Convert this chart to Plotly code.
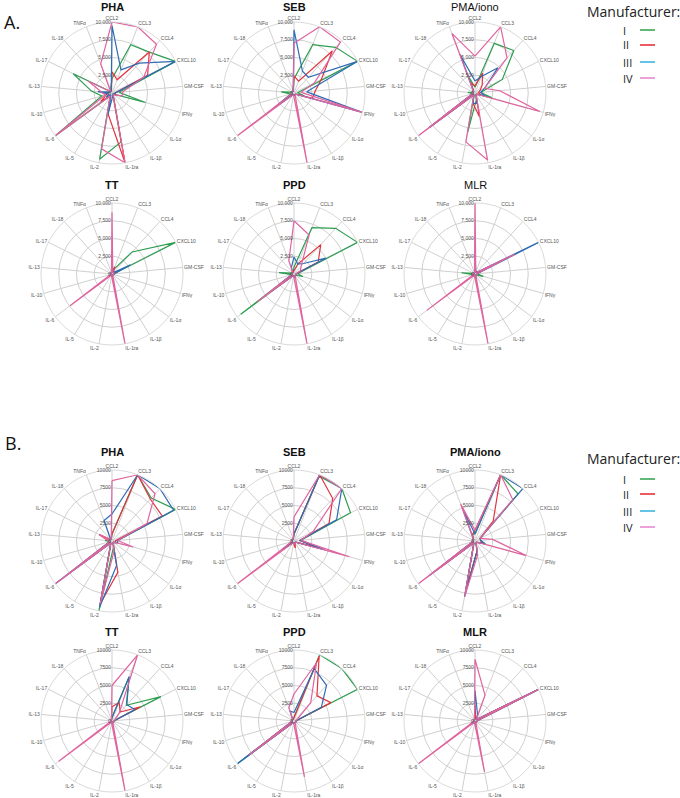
import plotly.graph_objects as go

W, H = 680, 798

CATEGORIES = ["CCL2", "CCL3", "CCL4", "CXCL10", "GM-CSF", "IFNγ", "IL-1α", "IL-1β",
              "IL-1ra", "IL-2", "IL-5", "IL-6", "IL-10", "IL-13", "IL-17", "IL-18", "TNFα"]
MANUFACTURERS = ["I", "II", "III", "IV"]
RADIAL_TICKS = [0, 2500, 5000, 7500, 10000]
TICKTEXT_A = ["0", "2,500", "5,000", "7,500", "10,000"]
TICKTEXT_B = ["0", "2500", "5000", "7500", "10000"]

# ---- Panel A values (order: CATEGORIES) ----
A_PHA = {
    "I":   [2000, 7300, 7800, 10000, 1000, 4900, 300, 300, 7000, 9500, 500, 10000, 1500, 2900, 6100, 300, 500],
    "II":  [3000, 2000, 7800, 5600, 500, 500, 300, 300, 10000, 3000, 500, 2000, 800, 1000, 300, 300, 300],
    "III": [9500, 3500, 5700, 10000, 500, 300, 200, 200, 500, 3100, 300, 1000, 500, 2000, 300, 300, 300],
    "IV":  [10000, 10000, 9300, 5000, 1500, 1500, 500, 300, 10000, 8000, 500, 10000, 1000, 1500, 3700, 300, 4400],
}
A_SEB = {
    "I":   [2000, 7300, 8700, 10000, 500, 1500, 300, 300, 300, 300, 300, 3500, 500, 1800, 300, 300, 300],
    "II":  [2400, 1800, 8000, 4300, 3000, 2700, 300, 300, 300, 300, 300, 1000, 300, 300, 300, 300, 300],
    "III": [8900, 3300, 3000, 10000, 1800, 10000, 300, 300, 300, 300, 300, 3500, 300, 300, 300, 300, 300],
    "IV":  [7000, 10000, 9700, 3200, 1000, 10000, 300, 300, 10000, 300, 300, 10000, 300, 300, 300, 300, 300],
}
A_PMA = {
    "I":   [800, 7500, 8100, 4300, 800, 2500, 300, 300, 1000, 5600, 300, 8000, 300, 1000, 300, 300, 2500],
    "II":  [1000, 3000, 1500, 800, 500, 800, 300, 300, 3400, 1500, 300, 8000, 300, 300, 300, 300, 1500],
    "III": [1700, 2500, 4800, 1500, 800, 1500, 300, 300, 1500, 1500, 300, 8000, 300, 300, 300, 300, 5800],
    "IV":  [5200, 10000, 6700, 1500, 3500, 9500, 300, 300, 9600, 7000, 300, 10000, 300, 300, 300, 300, 9000],
}
A_TT = {
    "I":   [300, 700, 4200, 10000, 300, 300, 200, 200, 300, 300, 200, 300, 200, 300, 200, 200, 200],
    "II":  [300, 1100, 300, 800, 300, 200, 200, 200, 300, 300, 200, 300, 200, 200, 200, 200, 200],
    "III": [2500, 300, 300, 2900, 300, 200, 200, 200, 300, 300, 200, 300, 200, 200, 200, 200, 200],
    "IV":  [8700, 300, 300, 300, 300, 200, 200, 200, 10000, 300, 200, 7400, 200, 200, 200, 200, 200],
}
A_PPD = {
    "I":   [1000, 7000, 8700, 10000, 500, 1300, 300, 300, 500, 300, 300, 9400, 300, 2100, 300, 300, 300],
    "II":  [500, 1500, 5600, 3800, 300, 300, 300, 300, 500, 300, 300, 4000, 300, 300, 300, 300, 300],
    "III": [2400, 1500, 2000, 5000, 300, 300, 300, 300, 500, 300, 300, 4000, 300, 300, 300, 300, 1000],
    "IV":  [7500, 5900, 1500, 1000, 300, 300, 300, 300, 10000, 300, 300, 6500, 300, 300, 300, 300, 2000],
}
A_MLR = {
    "I":   [500, 300, 300, 1000, 300, 1200, 200, 200, 300, 300, 200, 500, 300, 1900, 200, 200, 200],
    "II":  [1000, 300, 300, 800, 300, 300, 200, 200, 300, 300, 200, 500, 200, 300, 200, 200, 200],
    "III": [3000, 300, 300, 10000, 300, 300, 200, 200, 800, 300, 200, 500, 200, 300, 200, 200, 200],
    "IV":  [10000, 300, 300, 6200, 300, 300, 200, 200, 10000, 300, 200, 8500, 200, 300, 200, 200, 200],
}

# ---- Panel B values ----
B_PHA = {
    "I":   [1000, 10000, 8200, 10000, 800, 800, 300, 300, 1000, 10000, 300, 7800, 300, 1000, 300, 300, 300],
    "II":  [1000, 10000, 8000, 7900, 500, 500, 300, 300, 4500, 9000, 300, 5000, 300, 500, 2000, 300, 300],
    "III": [3800, 10000, 10000, 9700, 800, 800, 300, 300, 3500, 9500, 300, 10000, 300, 500, 300, 300, 3100],
    "IV":  [8500, 10000, 9000, 5500, 800, 3100, 300, 300, 1500, 9000, 300, 10000, 300, 500, 2000, 300, 300],
}
B_SEB = {
    "I":   [1000, 9800, 10000, 8900, 1000, 4000, 300, 300, 300, 300, 300, 2000, 300, 300, 300, 300, 300],
    "II":  [1000, 10000, 8100, 5500, 800, 3500, 300, 300, 1000, 300, 300, 2000, 300, 300, 300, 300, 300],
    "III": [1000, 10000, 10000, 6700, 800, 4500, 300, 300, 300, 300, 300, 2000, 300, 300, 300, 300, 300],
    "IV":  [3400, 10000, 10000, 3000, 1000, 8100, 300, 300, 500, 300, 300, 10000, 300, 300, 300, 300, 300],
}
B_PMA = {
    "I":   [1000, 10000, 9000, 800, 800, 1500, 300, 300, 1500, 7500, 300, 6000, 300, 300, 300, 300, 1000],
    "II":  [1500, 10000, 3800, 800, 800, 1000, 300, 300, 1500, 7000, 300, 7000, 300, 300, 300, 300, 1000],
    "III": [1000, 10000, 10000, 800, 800, 1500, 300, 300, 1500, 8000, 300, 8000, 300, 300, 300, 300, 5000],
    "IV":  [1500, 10000, 7900, 800, 2500, 7500, 300, 300, 2000, 8000, 300, 10000, 300, 300, 300, 300, 5600],
}
B_TT = {
    "I":   [500, 6600, 3000, 7700, 300, 300, 200, 200, 300, 300, 200, 300, 200, 200, 200, 200, 200],
    "II":  [2000, 2800, 1700, 4500, 300, 300, 200, 200, 300, 300, 200, 300, 200, 200, 200, 200, 200],
    "III": [500, 6700, 3100, 3600, 300, 300, 200, 200, 300, 300, 200, 300, 200, 200, 200, 200, 200],
    "IV":  [5000, 10000, 1500, 500, 300, 300, 200, 200, 10000, 300, 200, 9400, 200, 200, 200, 200, 200],
}
B_PPD = {
    "I":   [500, 10000, 10000, 10000, 300, 300, 300, 300, 300, 300, 300, 10000, 300, 300, 300, 300, 300],
    "II":  [500, 9800, 4800, 5800, 300, 300, 300, 300, 300, 300, 300, 8000, 300, 300, 300, 300, 300],
    "III": [1200, 7900, 6800, 4300, 300, 300, 300, 300, 300, 300, 300, 10000, 300, 300, 300, 300, 1500],
    "IV":  [3800, 8800, 3500, 500, 300, 300, 300, 300, 8000, 300, 300, 8000, 300, 300, 300, 300, 2000],
}
B_MLR = {
    "I":   [500, 300, 300, 10000, 300, 300, 200, 200, 300, 300, 200, 1000, 200, 200, 200, 200, 200],
    "II":  [2200, 300, 300, 9800, 300, 300, 200, 200, 300, 300, 200, 1000, 200, 200, 200, 200, 200],
    "III": [4300, 1000, 300, 10000, 300, 300, 200, 200, 500, 300, 200, 1000, 200, 200, 200, 200, 200],
    "IV":  [8700, 3900, 300, 10000, 300, 300, 200, 200, 7300, 300, 200, 10000, 200, 200, 200, 200, 200],
}

LINE_COLORS = {"I": "#2e9e52", "II": "#e2333f", "III": "#2f6cb3", "IV": "#e0649f"}
LEGEND_COLORS = {"I": "#3aa655", "II": "#e8303a", "III": "#3db5df", "IV": "#e68ad0"}

# ---- layout geometry (px) ----
COL_X = [112, 294, 475]
ROW_Y_A = [93, 274]
ROW_Y_B = [541, 721]
R = 71

panels = [
    ("PHA", A_PHA, COL_X[0], ROW_Y_A[0], "A", True),
    ("SEB", A_SEB, COL_X[1], ROW_Y_A[0], "A", True),
    ("PMA/iono", A_PMA, COL_X[2], ROW_Y_A[0], "A", False),
    ("TT", A_TT, COL_X[0], ROW_Y_A[1], "A", True),
    ("PPD", A_PPD, COL_X[1], ROW_Y_A[1], "A", True),
    ("MLR", A_MLR, COL_X[2], ROW_Y_A[1], "A", False),
    ("PHA", B_PHA, COL_X[0], ROW_Y_B[0], "B", True),
    ("SEB", B_SEB, COL_X[1], ROW_Y_B[0], "B", True),
    ("PMA/iono", B_PMA, COL_X[2], ROW_Y_B[0], "B", True),
    ("TT", B_TT, COL_X[0], ROW_Y_B[1], "B", True),
    ("PPD", B_PPD, COL_X[1], ROW_Y_B[1], "B", True),
    ("MLR", B_MLR, COL_X[2], ROW_Y_B[1], "B", True),
]

FONT = "Liberation Sans, Arial, sans-serif"
fig = go.Figure()
annotations = []
shapes = []

for i, (title, data, cx, cy, grp, bold) in enumerate(panels):
    pname = "polar" if i == 0 else f"polar{i+1}"
    for m in MANUFACTURERS:
        vals = data[m]
        fig.add_trace(go.Scatterpolar(
            r=vals + [vals[0]], theta=CATEGORIES + [CATEGORIES[0]],
            mode="lines", line=dict(color=LINE_COLORS[m], width=1.2),
            subplot=pname, showlegend=False, hoverinfo="skip"))
    fig.layout[pname] = dict(
        domain=dict(x=[(cx - R) / W, (cx + R) / W], y=[1 - (cy + R) / H, 1 - (cy - R) / H]),
        bgcolor="rgba(0,0,0,0)",
        gridshape="circular",
        radialaxis=dict(range=[0, 10000], tickvals=RADIAL_TICKS,
                        ticktext=TICKTEXT_A if grp == "A" else TICKTEXT_B,
                        angle=90, side="counterclockwise", tickangle=90,
                        showline=False, gridcolor="#d0d0d0", gridwidth=0.8,
                        ticks="", tickfont=dict(size=5, color="#555555", family=FONT)),
        angularaxis=dict(categoryorder="array", categoryarray=CATEGORIES,
                         direction="clockwise", rotation=90,
                         showline=True, linecolor="#d0d0d0", linewidth=0.8,
                         gridcolor="#d0d0d0", gridwidth=0.8, ticks="",
                         tickfont=dict(size=5, color="#555555", family=FONT)),
    )
    txt = f"<b>{title}</b>" if bold else title
    ty = max(cy - 89, 7)
    annotations.append(dict(x=cx / W, y=1 - ty / H, xref="paper", yref="paper",
                            text=txt, showarrow=False, xanchor="center", yanchor="middle",
                            borderpad=0,
                            font=dict(size=11, color="#111111", family=FONT)))

# panel letters
annotations.append(dict(x=2 / W, y=1 - 22 / H, xref="paper", yref="paper", text="A.",
                        showarrow=False, xanchor="left", yanchor="middle",
                        font=dict(size=18, color="#111111", family="Open Sans, sans-serif")))
annotations.append(dict(x=3 / W, y=1 - 443 / H, xref="paper", yref="paper", text="B.",
                        showarrow=False, xanchor="left", yanchor="middle",
                        font=dict(size=18, color="#111111", family="Open Sans, sans-serif")))

# manual legends
for ty, rows in [(11, [30, 45, 62, 78]), (458, [479, 494, 511, 527])]:
    annotations.append(dict(x=586 / W, y=1 - ty / H, xref="paper", yref="paper",
                            text="Manufacturer:", showarrow=False, xanchor="left", yanchor="middle",
                            borderpad=0,
                            font=dict(size=14, color="#222222", family="Open Sans, sans-serif")))
    for m, yy in zip(MANUFACTURERS, rows):
        annotations.append(dict(x=622 / W, y=1 - yy / H, xref="paper", yref="paper",
                                text=m, showarrow=False, xanchor="left", yanchor="middle",
                                borderpad=0,
                                font=dict(size=11, color="#222222", family="Open Sans, sans-serif")))
        shapes.append(dict(type="line", xref="paper", yref="paper",
                           x0=640 / W, x1=655 / W, y0=1 - yy / H, y1=1 - yy / H,
                           line=dict(color=LEGEND_COLORS[m], width=1.6)))

fig.update_layout(width=W, height=H, margin=dict(l=0, r=0, t=0, b=0),
                  paper_bgcolor="white", plot_bgcolor="white",
                  annotations=annotations, shapes=shapes, showlegend=False)
fig.write_html("out.html", config={"displayModeBar": False},
               post_script="document.body.style.margin='0';document.body.style.overflow='hidden';")
